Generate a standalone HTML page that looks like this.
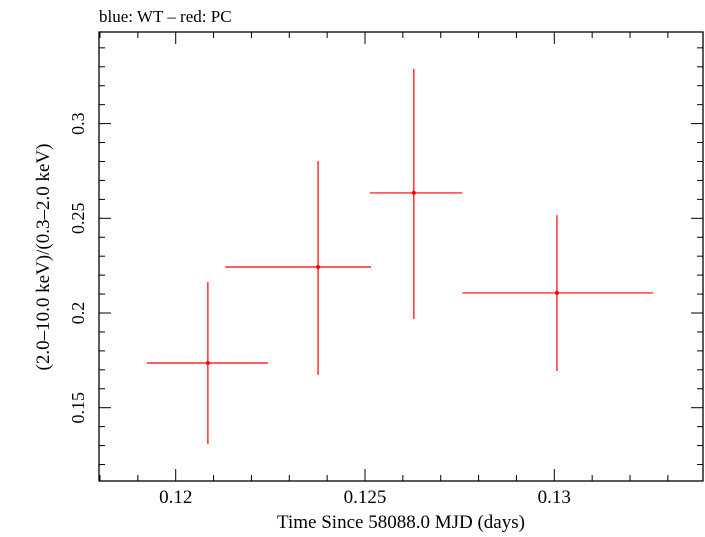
<!DOCTYPE html>
<html><head><meta charset="utf-8"><style>
body{margin:0;background:#fff;}
svg text{font-family:"Liberation Serif",serif;fill:#000;}
</style></head><body>
<svg id="chart" width="705" height="532" viewBox="0 0 705 532" xmlns="http://www.w3.org/2000/svg">
<text x="99" y="22" font-size="17">blue: WT – red: PC</text>
<rect x="99" y="32" width="604" height="449" fill="none" stroke="#000" stroke-width="1.3"/>
<g id="ticks"></g>
<g id="marks"></g>
<text x="401" y="528" font-size="19" text-anchor="middle">Time Since 58088.0 MJD (days)</text>
<text transform="translate(49,257) rotate(-90)" font-size="19" text-anchor="middle">(2.0–10.0 keV)/(0.3–2.0 keV)</text>
</svg>
<script>
const xCenters=[0.12085,0.12376,0.12629,0.13007];
const xLo=[0.11924,0.12131,0.12513,0.12757];
const xHi=[0.12244,0.12516,0.12757,0.13261];
const yValues=[0.1736,0.2243,0.2634,0.2106];
const yLo=[0.1308,0.1673,0.1968,0.1694];
const yHi=[0.2164,0.2802,0.3289,0.2517];
const xTickLabels=["0.12","0.125","0.13"];
const yTickLabels=["0.15","0.2","0.25","0.3"];
const NS="http://www.w3.org/2000/svg";
function sx(v){return 175.7+(v-0.12)/0.005*189.3;}
function sy(v){return 313-(v-0.2)/0.05*94.7;}
function mk(tag,attrs,parent){const e=document.createElementNS(NS,tag);for(const k in attrs)e.setAttribute(k,attrs[k]);parent.appendChild(e);return e;}
const ticks=document.getElementById('ticks'),marks=document.getElementById('marks');
for(let i=-3;i<=22;i++){const v=0.12+i*0.001;const px=sx(v);if(px<99||px>703)continue;const major=i%5===0;const len=major?12:6;
 const t1=mk('line',{x1:px,x2:px,y1:481,y2:481-len,stroke:'#000','stroke-width':1},ticks);
 
 
 const t2=mk('line',{x1:px,x2:px,y1:32,y2:32+len,stroke:'#000','stroke-width':1},ticks);
 
 }
xTickLabels.forEach(s=>{const t=mk('text',{x:sx(parseFloat(s)),y:503,'font-size':19,'text-anchor':'middle'},ticks);t.textContent=s;
 
 });
for(let i=-10;i<=30;i++){const v=0.2+i*0.01;const py=sy(v);if(py<32||py>481)continue;const major=i%5===0;const len=major?12:6;
 const t1=mk('line',{x1:99,x2:99+len,y1:py,y2:py,stroke:'#000','stroke-width':1},ticks);
 
 
 const t2=mk('line',{x1:703,x2:703-len,y1:py,y2:py,stroke:'#000','stroke-width':1},ticks);
 
 }
yTickLabels.forEach(s=>{const py=sy(parseFloat(s));const t=mk('text',{transform:`translate(84,${py}) rotate(-90)`,'font-size':18,'text-anchor':'middle'},ticks);t.textContent=s;
 
 });
xCenters.forEach((x,i)=>{const g=mk('g',{},marks);
 
 
 mk('line',{x1:sx(xLo[i]),x2:sx(xHi[i]),y1:sy(yValues[i]),y2:sy(yValues[i]),stroke:'#f00','stroke-width':1.2},g);
 mk('line',{x1:sx(x),x2:sx(x),y1:sy(yLo[i]),y2:sy(yHi[i]),stroke:'#f00','stroke-width':1.2},g);
 mk('circle',{cx:sx(x),cy:sy(yValues[i]),r:2,fill:'#f00'},g);});
</script>
</body></html>
